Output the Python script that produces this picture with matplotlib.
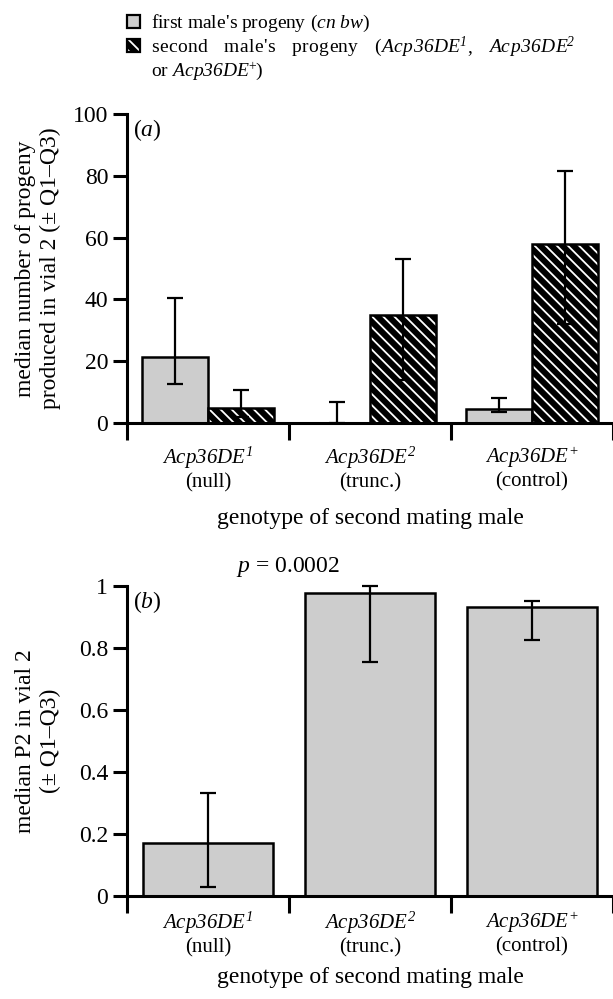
import matplotlib
matplotlib.use("Agg")
import matplotlib.pyplot as plt
from matplotlib.patches import Rectangle
from matplotlib.font_manager import findfont, FontProperties
from matplotlib.ft2font import FT2Font
import numpy as np

plt.rcParams['font.family'] = ['Liberation Serif', 'DejaVu Serif']
plt.rcParams['mathtext.fontset'] = 'custom'
plt.rcParams['mathtext.rm'] = 'Liberation Serif:italic'
plt.rcParams['mathtext.it'] = 'Liberation Serif:italic'
plt.rcParams['mathtext.bf'] = 'Liberation Serif:bold'
plt.rcParams['hatch.linewidth'] = 1.3

# ---- data ----
genotypes = [r'$\mathit{Acp36DE}^{\mathit{1}}$', r'$\mathit{Acp36DE}^{\mathit{2}}$', r'$\mathit{Acp36DE}^{+}$']
genotype_notes = ['(null)', '(trunc.)', '(control)']

first_median = [21.3, 0.0, 4.5]
first_q1 = [12.5, 0.0, 3.7]
first_q3 = [40.4, 6.9, 8.0]

second_median = [4.9, 35.0, 57.8]
second_q1 = [2.0, 14.0, 32.0]
second_q3 = [10.6, 53.0, 81.5]

p2_median = [0.172, 0.978, 0.933]
p2_q1 = [0.030, 0.756, 0.826]
p2_q3 = [0.333, 1.000, 0.952]

yticks_a = [0, 20, 40, 60, 80, 100]
yticks_b = [0, 0.2, 0.4, 0.6, 0.8, 1]
yticklabels_b = ['0', '0.2', '0.4', '0.6', '0.8', '1']

GREY = '#cdcdcd'
FS = 17

fig = plt.figure(figsize=(6.13, 9.99), dpi=100)
W, H = 613, 999

def pos(l, t, r, b):
    return [l / W, 1 - b / H, (r - l) / W, (b - t) / H]

ax_a = fig.add_axes(pos(127, 114, 613, 423))
ax_b = fig.add_axes(pos(127, 586, 613, 896))

centers = np.arange(len(genotypes)) + 0.5
tick_labels = [f'{g}\n{n}' for g, n in zip(genotypes, genotype_notes)]

def style_axis(ax, yticks, ylabels, ylim, xpad):
    ax.set_xlim(0, 3)
    ax.set_ylim(*ylim)
    for s in ['top', 'right']:
        ax.spines[s].set_visible(False)
    for s in ['left', 'bottom']:
        ax.spines[s].set_linewidth(2.2)
    ax.set_yticks(yticks)
    ax.set_yticklabels(ylabels, fontsize=FS)
    ax.tick_params(axis='y', direction='out', length=10, width=2.2, pad=3.5)
    ax.set_xticks(centers)
    ax.set_xticklabels(tick_labels, fontsize=15, linespacing=1.15)
    ax.tick_params(axis='x', which='major', length=0, pad=xpad)
    ax.set_xticks([0, 1, 2, 3], minor=True)
    ax.tick_params(axis='x', which='minor', direction='out', length=12, width=2.2)
    for sp in ax.spines.values():
        sp.set_clip_on(False)

# ---- panel a ----
bw = 0.41
style_axis(ax_a, yticks_a, [str(v) for v in yticks_a], (0, 100), 16)
x1 = centers - bw / 2
x2 = centers + bw / 2
ax_a.bar(x1, first_median, width=bw, color=GREY, edgecolor='black', linewidth=1.8, zorder=2)
ax_a.bar(x2, second_median, width=bw, color='black', edgecolor='white', linewidth=0,
         hatch='\\\\\\', zorder=2)
ax_a.bar(x2, second_median, width=bw, fill=False, edgecolor='black', linewidth=1.8, zorder=3)
ax_a.errorbar(x1, first_median,
              yerr=[np.array(first_median) - np.array(first_q1), np.array(first_q3) - np.array(first_median)],
              fmt='none', ecolor='black', elinewidth=1.6, capsize=6, capthick=1.6, zorder=5, clip_on=False)
ax_a.errorbar(x2, second_median,
              yerr=[np.array(second_median) - np.array(second_q1), np.array(second_q3) - np.array(second_median)],
              fmt='none', ecolor='black', elinewidth=1.6, capsize=6, capthick=1.6, zorder=5, clip_on=False)
ax_a.set_ylabel('median number of progeny\nproduced in vial 2 (\u00b1 Q1\u2013Q3)', fontsize=FS, linespacing=1.25)
ax_a.yaxis.set_label_coords(-0.183, 0.5)
ax_a.yaxis.label.set_va('center')
ax_a.set_xlabel('genotype of second mating male', fontsize=FS)
ax_a.xaxis.set_label_coords(0.5, -0.309)
ax_a.xaxis.label.set_va('center')
ax_a.text(0.012, 0.99, r'($\mathit{a}$)', transform=ax_a.transAxes, fontsize=FS, va='top', ha='left')

# ---- panel b ----
bw_b = 0.80
style_axis(ax_b, yticks_b, yticklabels_b, (0, 1), 10)
ax_b.bar(centers, p2_median, width=bw_b, color=GREY, edgecolor='black', linewidth=1.8, zorder=2)
ax_b.errorbar(centers, p2_median,
              yerr=[np.array(p2_median) - np.array(p2_q1), np.array(p2_q3) - np.array(p2_median)],
              fmt='none', ecolor='black', elinewidth=1.6, capsize=6, capthick=1.6, zorder=5, clip_on=False)
ax_b.set_ylabel('median P2 in vial 2\n(\u00b1 Q1\u2013Q3)', fontsize=FS, linespacing=1.25)
ax_b.yaxis.set_label_coords(-0.183, 0.5)
ax_b.yaxis.label.set_va('center')
ax_b.set_xlabel('genotype of second mating male', fontsize=FS)
ax_b.xaxis.set_label_coords(0.5, -0.264)
ax_b.xaxis.label.set_va('center')
ax_b.text(0.012, 0.99, r'($\mathit{b}$)', transform=ax_b.transAxes, fontsize=FS, va='top', ha='left')
fig.text(288 / W, 1 - 567 / H, r'$\mathit{p}$ = 0.0002', fontsize=FS, ha='center', va='center')

# ---- legend (manual; second line is justified) ----
LFS = 14
SUP = 9.8
_fonts = {}

def _font(italic, size):
    key = (italic, size)
    if key not in _fonts:
        path = findfont(FontProperties(family='Liberation Serif', style='italic' if italic else 'normal'))
        f = FT2Font(path)
        f.set_size(size, 100)
        _fonts[key] = f
    return _fonts[key]

def run_width(segments):
    w, n, sp = 0.0, 0, 0
    for text, italic, size, dy in segments:
        f = _font(italic, size)
        for ch in text:
            w += f.load_char(ord(ch)).linearHoriAdvance / 65536
            n += 1
            sp += ch == ' '
    return w, n, sp

def draw_run(segments, x0, ybase, tracking=0.0, word_extra=0.0):
    x = x0
    for text, italic, size, dy in segments:
        f = _font(italic, size)
        for ch in text:
            if ch != ' ':
                fig.text(x / W, 1 - (ybase - dy) / H, ch, fontsize=size,
                         style='italic' if italic else 'normal', family='Liberation Serif',
                         va='baseline', ha='left')
            else:
                x += word_extra
            x += f.load_char(ord(ch)).linearHoriAdvance / 65536 + tracking

line1 = [("first male's progeny (", False, LFS, 0), ("cn bw", True, LFS, 0), (")", False, LFS, 0)]
line2 = [("second male's progeny (", False, LFS, 0), ("Acp36DE", True, LFS, 0), ("1", True, SUP, 6),
         (", ", False, LFS, 0), ("Acp36DE", True, LFS, 0), ("2", True, SUP, 6)]
line3 = [("or ", False, LFS, 0), ("Acp36DE", True, LFS, 0), ("+", False, SUP, 6), (")", False, LFS, 0)]

x_text = 151
line2_end = 574
track2 = 0.4
w2, n2, sp2 = run_width(line2)
word_extra2 = (line2_end - x_text - w2 - track2 * (n2 - 1)) / sp2

draw_run(line1, x_text, 28)
draw_run(line2, x_text, 52, track2, word_extra2)
draw_run(line3, x_text, 76)

sq = 13
fig.patches.append(Rectangle((127 / W, 1 - 28 / H), sq / W, sq / H, transform=fig.transFigure,
                             facecolor=GREY, edgecolor='black', linewidth=1.6))
fig.patches.append(Rectangle((127 / W, 1 - 52 / H), sq / W, sq / H, transform=fig.transFigure,
                             facecolor='black', edgecolor='white', linewidth=0, hatch='\\\\\\'))
fig.patches.append(Rectangle((127 / W, 1 - 52 / H), sq / W, sq / H, transform=fig.transFigure,
                             fill=False, edgecolor='black', linewidth=1.6))

fig.savefig('out.png', dpi=100)
